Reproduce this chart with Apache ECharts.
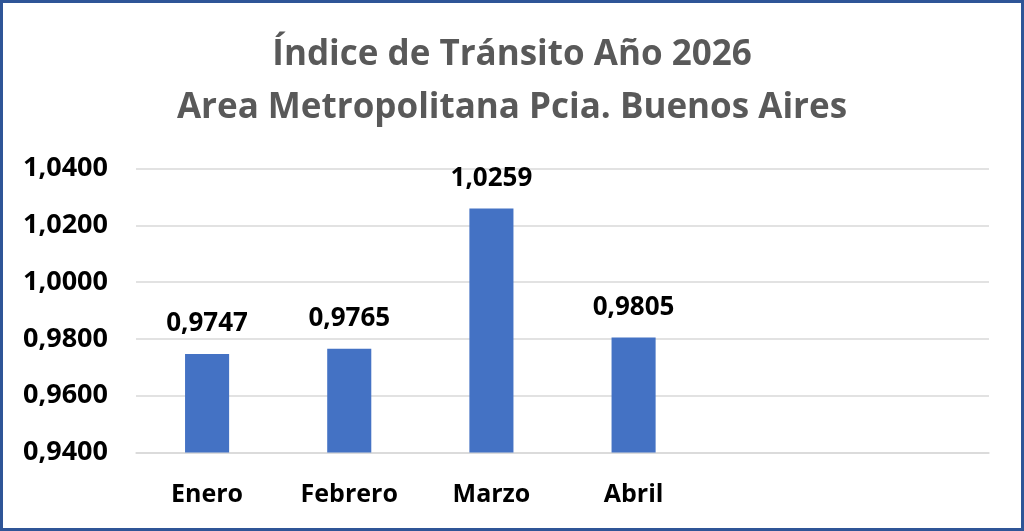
<!DOCTYPE html>
<html>
<head>
<meta charset="utf-8">
<script src="https://cdn.jsdelivr.net/npm/echarts@6/dist/echarts.min.js"></script>
<style>
html,body{margin:0;padding:0;background:#fff;}
#chart{width:1024px;height:531px;}
</style>
</head>
<body>
<div id="chart"></div>
<script>
const categories = ['Enero', 'Febrero', 'Marzo', 'Abril', '', ''];
const values = [0.9747, 0.9765, 1.0259, 0.9805, '-', '-'];
const titleLines = ['Índice de Tránsito Año 2026', 'Area Metropolitana Pcia. Buenos Aires'];
const yMin = 0.94, yMax = 1.04, yStep = 0.02;

const fmt = v => Number(v).toFixed(4).replace('.', ',');
const FONT = 'Open Sans';

const chart = echarts.init(document.getElementById('chart'));
chart.setOption({
  backgroundColor: '#ffffff',
  animation: false,
  title: {
    text: titleLines.join('\n'),
    left: 'center',
    top: 24,
    textStyle: {
      fontFamily: FONT,
      fontWeight: 'bold',
      fontSize: 35,
      color: '#595959',
      lineHeight: 53
    }
  },
  graphic: [{
    type: 'rect',
    shape: { x: 1.5, y: 1.5, width: 1021, height: 528 },
    style: { fill: 'none', stroke: '#2F5597', lineWidth: 3 },
    silent: true,
    z: 100
  }],
  grid: { left: 136, right: 35, top: 168.5, bottom: 78.5, containLabel: false },
  xAxis: {
    type: 'category',
    data: categories,
    axisLine: { show: true, lineStyle: { color: '#D9D9D9', width: 1.5 } },
    axisTick: { show: false },
    axisLabel: {
      margin: 30,
      fontFamily: FONT,
      fontWeight: 'bold',
      fontSize: 25,
      color: '#000000'
    }
  },
  yAxis: {
    type: 'value',
    min: yMin,
    max: yMax,
    interval: yStep,
    axisLine: { show: false },
    axisTick: { show: false },
    splitLine: { lineStyle: { color: '#D9D9D9', width: 1.5 } },
    axisLabel: {
      margin: 28,
      fontFamily: FONT,
      fontWeight: 'bold',
      fontSize: 27,
      color: '#000000',
      formatter: v => fmt(v)
    }
  },
  series: [{
    type: 'bar',
    data: values,
    barWidth: '31%',
    itemStyle: { color: '#4472C4' },
    label: {
      show: true,
      position: 'top',
      distance: 17,
      fontFamily: FONT,
      fontWeight: 'bold',
      fontSize: 26,
      color: '#000000',
      formatter: p => fmt(p.value)
    }
  }]
});
</script>
</body>
</html>
